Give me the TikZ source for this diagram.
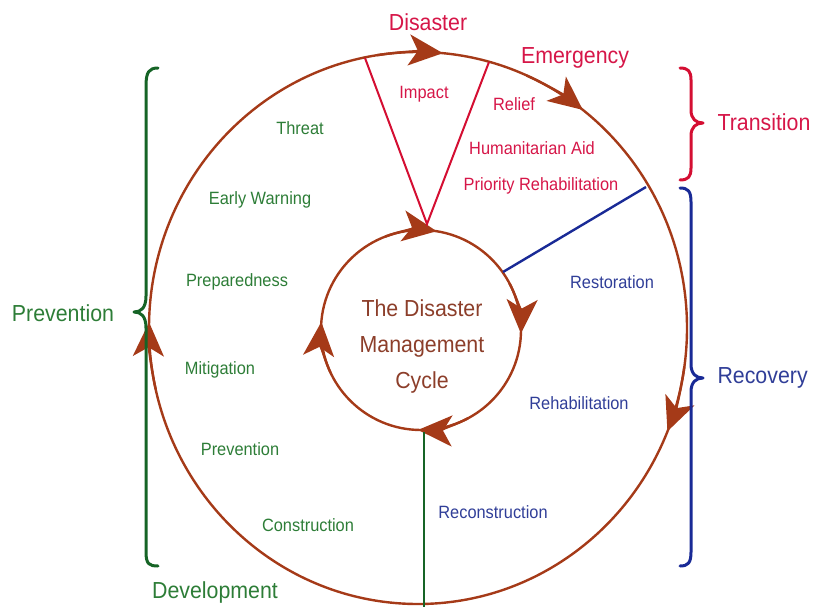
\documentclass[tikz,border=0pt]{standalone}
\usepackage{fontspec}
\setmainfont{Liberation Sans}[FakeStretch=0.92]
\usetikzlibrary{arrows.meta,calc}
\definecolor{redtxt}{RGB}{214,22,72}
\definecolor{redline}{RGB}{212,14,50}
\definecolor{greentxt}{RGB}{45,125,55}
\definecolor{greenbrace}{RGB}{22,100,38}
\definecolor{bluetxt}{RGB}{48,62,152}
\definecolor{bluebrace}{RGB}{25,42,150}
\definecolor{circ}{RGB}{165,58,24}
\definecolor{centertxt}{RGB}{140,62,42}
\tikzset{
  bigtip/.tip={Stealth[length=34pt,width=31pt,inset=9pt]},
  small/.style={font=\fontsize{17.8}{20}\selectfont},
  big/.style={font=\fontsize{23.2}{36}\selectfont},
  ring/.style={draw=circ, line width=2.4pt},
  ringarrow/.style={draw=circ, fill=circ, line width=2.4pt, -{bigtip}},
  bracestyle/.style={line width=3pt, line cap=round, line join=round},
}
\begin{document}
\begin{tikzpicture}[x=1pt,y=-1pt]
\useasboundingbox (0,0) rectangle (813,607);

\coordinate (oc) at (418,328);
\coordinate (ic) at (421,330);

% outer ring
\draw[ring] (oc) ellipse [x radius=269, y radius=276];
% inner ring
\draw[ring] (ic) circle [radius=100];

% arrowheads on outer ring (clockwise on screen = increasing angle here)
\foreach \t in {-84.7,-52.2,22,181.2}{
  \draw[ringarrow] ($(oc)+(\t-14:269 and 276)$)
     arc[start angle=\t-14, end angle=\t, x radius=269, y radius=276];
}
% arrowheads on inner ring
\foreach \t in {-81,2,91.7,184.6}{
  \draw[ringarrow] ($(ic)+(\t-30:100)$)
     arc[start angle=\t-30, end angle=\t, radius=100];
}

% connector end points
\coordinate (impL) at (365,58);
\coordinate (impR) at (489,62);
\coordinate (apex) at (427,224);
\coordinate (recO) at (646,187);
\coordinate (recI) at (503,272);
\coordinate (devI) at (424,432);
\coordinate (devO) at (424,607);

\draw[redline, line width=2pt] (impL) -- (apex) -- (impR);
\draw[bluebrace, line width=2.4pt] (recO) -- (recI);
\draw[greenbrace, line width=2.4pt] (devI) -- (devO);

% braces
\draw[greenbrace, bracestyle]
  (158,68) .. controls (149,68) and (146,72) .. (146,86) -- (146,296)
  .. controls (146,308) and (141,312) .. (134,312)
  .. controls (141,312) and (146,316) .. (146,328) -- (146,552)
  .. controls (146,564) and (149,566) .. (158,566);
\draw[redline, bracestyle]
  (680,68) .. controls (688,68) and (691,71) .. (691,80) -- (691,110)
  .. controls (691,119) and (696,123) .. (703,123)
  .. controls (696,123) and (691,127) .. (691,136) -- (691,168)
  .. controls (691,177) and (688,180) .. (680,180);
\draw[bluebrace, bracestyle]
  (680,188) .. controls (688,188) and (691,191) .. (691,202) -- (691,364)
  .. controls (691,374) and (696,378) .. (703,378)
  .. controls (696,378) and (691,382) .. (691,392) -- (691,552)
  .. controls (691,563) and (688,566) .. (680,566);

% big labels
\node[big, text=redtxt] (disaster) at (428,22) {Disaster};
\node[big, text=redtxt] (emergency) at (575,58) {Emergency};
\node[big, text=redtxt, anchor=west] (transition) at (714,122) {Transition};
\node[big, text=bluetxt, anchor=west] (recovery) at (714,378) {Recovery};
\node[big, text=greentxt] (prevention) at (63,313) {Prevention};
\node[big, text=greentxt] (development) at (215,592) {Development};

% centre
\node[big, text=centertxt, align=center] (centre) at (422,346)
  {The Disaster\\Management\\Cycle};

% small labels
\node[small, text=redtxt] (impact) at (424,94) {Impact};
\node[small, text=redtxt] (relief) at (514,104) {Relief};
\node[small, text=redtxt] (aid) at (532,148) {Humanitarian Aid};
\node[small, text=redtxt] (prio) at (541,186) {Priority Rehabilitation};

\node[small, text=greentxt] (threat) at (300,128) {Threat};
\node[small, text=greentxt] (warning) at (260,200) {Early Warning};
\node[small, text=greentxt] (prepared) at (237,282) {Preparedness};
\node[small, text=greentxt] (mitigation) at (220,370) {Mitigation};
\node[small, text=greentxt] (prevsmall) at (240,449) {Prevention};
\node[small, text=greentxt] (construction) at (308,525) {Construction};

\node[small, text=bluetxt] (restoration) at (612,282) {Restoration};
\node[small, text=bluetxt] (rehab) at (579,403) {Rehabilitation};
\node[small, text=bluetxt] (reconstruction) at (493,512) {Reconstruction};
\end{tikzpicture}
\end{document}
